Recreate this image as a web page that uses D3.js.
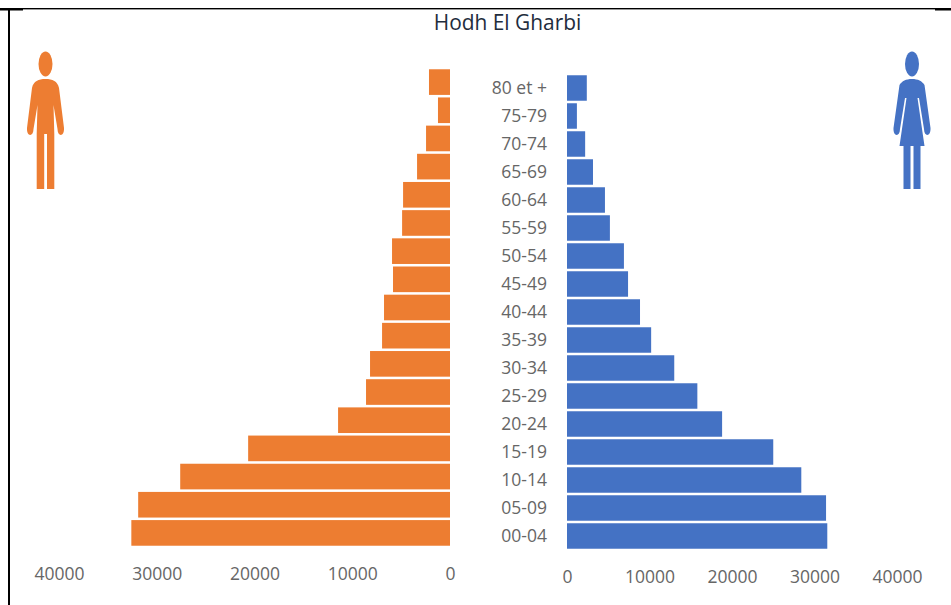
<!DOCTYPE html>
<html><head><meta charset="utf-8">
<script src="https://cdn.jsdelivr.net/npm/d3@7/dist/d3.min.js"></script>
<style>html,body{margin:0;padding:0;background:#fff}svg{display:block}text{font-family:"Open Sans","Noto Sans",sans-serif}</style>
</head><body><svg id="c" width="951" height="605"></svg>
<script>
const titleText = "Hodh El Gharbi";
const ageGroups = ["80 et +","75-79","70-74","65-69","60-64","55-59","50-54","45-49","40-44","35-39","30-34","25-29","20-24","15-19","10-14","05-09","00-04"];
const hommes = [2150,1230,2450,3370,4800,4900,5930,5830,6750,6950,8180,8590,11450,20650,27600,31900,32600];
const femmes = [2400,1200,2200,3150,4600,5200,6900,7400,8850,10200,13000,15800,18800,25000,28400,31400,31550];
const xTicks = [0,10000,20000,30000,40000];
const orange = "#ED7D31", blue = "#4472C4", grey = "#666666";

const svg = d3.select("#c");
const defs = svg.append("defs");
defs.append("filter").attr("id","soft").append("feGaussianBlur").attr("stdDeviation",0.45);

// page frame
svg.append("rect").attr("x",0).attr("y",8).attr("width",951).attr("height",1.4).attr("fill","#000");
svg.append("rect").attr("x",0).attr("y",8.5).attr("width",23).attr("height",2).attr("fill","#000");
svg.append("rect").attr("x",935).attr("y",8.5).attr("width",16).attr("height",2).attr("fill","#000");
svg.append("rect").attr("x",8).attr("y",9).attr("width",2).attr("height",596).attr("fill","#000");

svg.append("text").attr("x",507.5).attr("y",30).attr("text-anchor","middle")
  .attr("font-size",20.9).attr("fill","#1f2d3d").text(titleText);

const xL = d3.scaleLinear().domain([0,40000]).range([450,59]);
const xR = d3.scaleLinear().domain([0,40000]).range([567,897]);
const yL = d3.scaleBand().domain(ageGroups).range([68,547]).paddingInner(0.09).paddingOuter(0.045);
const yR = d3.scaleBand().domain(ageGroups).range([74,550]).paddingInner(0.09).paddingOuter(0.045);

svg.append("g").selectAll("rect").data(hommes).join("rect")
  .attr("x",d=>xL(d)).attr("width",d=>xL(0)-xL(d))
  .attr("y",(d,i)=>yL(ageGroups[i])).attr("height",yL.bandwidth())
  .attr("fill",orange);
svg.append("g").selectAll("rect").data(femmes).join("rect")
  .attr("x",xR(0)).attr("width",d=>xR(d)-xR(0))
  .attr("y",(d,i)=>yR(ageGroups[i])).attr("height",yR.bandwidth())
  .attr("fill",blue);

// category labels
svg.append("g").selectAll("text").data(ageGroups).join("text")
  .attr("x",547).attr("y",d=>yR(d)+yR.bandwidth()/2+5.5).attr("text-anchor","end")
  .attr("font-size",17.5).attr("fill",grey).text(d=>d);

// value axes
function axis(scale, y){
  const g = svg.append("g").attr("transform",`translate(0,${y})`)
    .call(d3.axisBottom(scale).tickValues(xTicks).tickFormat(d3.format("d")).tickSize(0));
  g.select(".domain").remove();
  g.selectAll("text").attr("font-size",17.5).attr("fill",grey)
    .attr("font-family",'"Open Sans","Noto Sans",sans-serif').attr("dy",0).attr("y",0);
}
axis(xL,580); axis(xR,583);

// pictograms
function man(cx,top,c){
  const g = svg.append("g").attr("transform",`translate(${cx},${top})`).attr("fill",c).attr("filter","url(#soft)");
  g.append("ellipse").attr("cx",0).attr("cy",12).attr("rx",7).attr("ry",12.5);
  g.append("path").attr("d","M0,27 C-7,27 -12,29 -13.5,36 L-18.5,76 C-19,85 -12,85 -12,77 L-8,53 L-8.8,82 L-8.8,137 L-1.3,137 L-1.3,82 L1.5,82 L1.5,137 L8.8,137 L8.8,82 L8,53 L12,77 C12,85 19,85 18.5,76 L13.5,36 C12,29 7,27 0,27 Z");
}
function woman(cx,top,c){
  const g = svg.append("g").attr("transform",`translate(${cx},${top})`).attr("fill",c).attr("filter","url(#soft)");
  g.append("ellipse").attr("cx",0).attr("cy",12).attr("rx",7).attr("ry",12.5);
  g.append("path").attr("d","M0,27 C-6,27 -10,29 -12.5,33 L-18.5,76 C-19,85 -12,85 -12,77 L-7,46 L-5.5,46 L-12.5,94 L-8.5,94 L-8.5,137 L-1.5,137 L-1.5,94 L1.5,94 L1.5,137 L8.5,137 L8.5,94 L12.5,94 L5.5,46 L7,46 L12,77 C12,85 19,85 18.5,76 L12.5,33 C10,29 6,27 0,27 Z");
}
man(45.5,52,orange);
woman(912,52,blue);
</script></body></html>
